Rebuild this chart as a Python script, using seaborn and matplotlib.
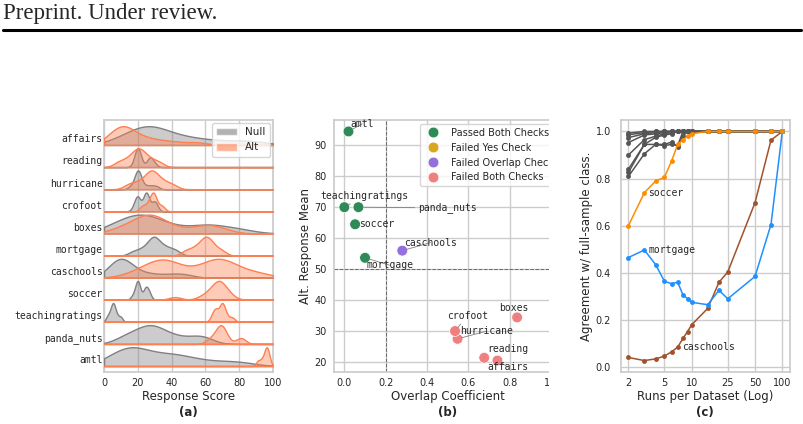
import numpy as np
import pandas as pd
import matplotlib.pyplot as plt
import seaborn as sns
from matplotlib.patches import Patch, Rectangle
from matplotlib.lines import Line2D
from matplotlib.ticker import NullLocator

# datasets, top row of the ridge plot first
datasets = ['affairs', 'reading', 'hurricane', 'crofoot', 'boxes', 'mortgage',
            'caschools', 'soccer', 'teachingratings', 'panda_nuts', 'amtl']

# (a) response scores (null vs alt prompt)
affairs_null = [8, 14, 18, 21, 24, 26, 28, 30, 33, 37, 42, 48, 55, 65, 78, 90]
affairs_alt = [3, 6, 8, 10, 11, 12, 13, 15, 18, 22, 27, 33, 42, 55]
reading_null = [18, 19, 19.5, 20, 20, 20, 20.5, 21, 22, 26, 27, 27.5, 28, 30]
reading_alt = [8, 12, 15, 17, 19, 20, 21, 22, 24, 26, 29, 33]
hurricane_null = [16, 18.5, 19.5, 20, 20, 20, 20.5, 21, 22, 25, 28, 31]
hurricane_alt = [14, 18, 21, 24, 26, 27, 28, 29, 30, 32, 34, 37, 41]
crofoot_null = [18, 19.5, 20, 20, 20.5, 24, 24.5, 25, 25, 25.5, 26, 29.5, 30, 30.5]
crofoot_alt = [22, 24, 26, 27, 28, 29, 29, 29.5, 30, 31, 33, 35]
boxes_null = [3, 8, 12, 16, 19, 21, 23, 25, 28, 32, 37, 43, 55, 60, 64, 72, 82]
boxes_alt = [8, 14, 18, 22, 24, 26, 27, 29, 31, 34, 38, 45, 56, 60, 64, 70]
mortgage_null = [17, 21, 24, 26, 28, 29, 29.5, 30, 31, 33, 35, 37, 40, 43]
mortgage_alt = [48, 52, 55, 57, 59, 60, 61, 62, 64, 66, 70]
caschools_null = [3, 6, 8, 9, 10, 11, 12, 14, 17, 22, 30, 40, 48]
caschools_alt = [18, 25, 30, 33, 35, 37, 40, 46, 55, 62, 65, 67, 69, 71, 75, 82, 92]
soccer_null = [17, 19, 19.5, 20, 20, 20.5, 21, 24, 24.5, 25, 26, 27]
soccer_alt = [42, 58, 62, 64, 66, 67, 68, 68.5, 69, 70, 72, 75]
teachingratings_null = [2, 3.5, 4.5, 5, 5.5, 6, 6.5, 8, 10]
teachingratings_alt = [64, 65.5, 66, 67, 69, 69.5, 70, 70.5, 71, 73, 76]
panda_nuts_null = [10, 15, 19, 22, 25, 27, 29, 31, 34, 38, 43, 50, 57, 60]
panda_nuts_alt = [62, 65, 67, 68, 69, 69.5, 70, 71, 73, 80, 82]
amtl_null = [3, 8, 12, 14, 16, 18, 21, 25, 30, 36, 40, 44, 50, 58, 70, 82]
amtl_alt = [91, 93, 94.5, 95.5, 96, 96.5, 97, 98]

null_scores = dict(zip(datasets, [affairs_null, reading_null, hurricane_null, crofoot_null,
                                  boxes_null, mortgage_null, caschools_null, soccer_null,
                                  teachingratings_null, panda_nuts_null, amtl_null]))
alt_scores = dict(zip(datasets, [affairs_alt, reading_alt, hurricane_alt, crofoot_alt,
                                 boxes_alt, mortgage_alt, caschools_alt, soccer_alt,
                                 teachingratings_alt, panda_nuts_alt, amtl_alt]))

# (b) overlap coefficient vs alt response mean
overlap_coef = [0.74, 0.676, 0.547, 0.535, 0.835, 0.10, 0.28, 0.052, 0.0, 0.068, 0.02]
alt_mean = [20.6, 21.5, 27.6, 30.1, 34.5, 53.7, 56.0, 64.5, 70.0, 70.0, 94.4]
check_status = ['Failed Both Checks'] * 5 + ['Passed Both Checks', 'Failed Overlap Check'] \
    + ['Passed Both Checks'] * 4
status_order = ['Passed Both Checks', 'Failed Yes Check', 'Failed Overlap Check', 'Failed Both Checks']

# (c) agreement with full-sample classification
runs = [2, 3, 4, 5, 6, 7, 8, 9, 10, 15, 20, 25, 50, 75, 100]
soccer_agree = [0.60, 0.74, 0.79, 0.805, 0.875, 0.945, 0.965, 0.98, 0.99, 1, 1, 1, 1, 1, 1]
mortgage_agree = [0.465, 0.497, 0.435, 0.364, 0.354, 0.36, 0.307, 0.29, 0.275, 0.265,
                  0.326, 0.29, 0.385, 0.605, 1.0]
caschools_agree = [0.041, 0.028, 0.035, 0.047, 0.065, 0.085, 0.122, 0.151, 0.18, 0.249,
                   0.36, 0.404, 0.698, 0.963, 1.0]
affairs_agree = [0.993, 1, 1, 1, 1, 1, 1, 1, 1, 1, 1, 1, 1, 1, 1]
reading_agree = [0.986, 0.995, 1, 1, 1, 1, 1, 1, 1, 1, 1, 1, 1, 1, 1]
hurricane_agree = [0.974, 0.99, 0.995, 1, 1, 1, 1, 1, 1, 1, 1, 1, 1, 1, 1]
crofoot_agree = [0.953, 0.985, 0.99, 0.995, 1, 1, 1, 1, 1, 1, 1, 1, 1, 1, 1]
boxes_agree = [0.90, 0.965, 0.98, 0.99, 0.995, 1, 1, 1, 1, 1, 1, 1, 1, 1, 1]
teachingratings_agree = [0.84, 0.945, 0.975, 0.985, 0.99, 1, 1, 1, 1, 1, 1, 1, 1, 1, 1]
panda_nuts_agree = [0.826, 0.945, 0.945, 0.94, 0.945, 0.94, 1, 1, 1, 1, 1, 1, 1, 1, 1]
amtl_agree = [0.809, 0.905, 0.945, 0.945, 0.955, 0.935, 0.98, 1, 1, 1, 1, 1, 1, 1, 1]

gray_names = ['affairs', 'reading', 'hurricane', 'crofoot', 'boxes',
              'teachingratings', 'panda_nuts', 'amtl']
agreement = dict(zip(gray_names, [affairs_agree, reading_agree, hurricane_agree, crofoot_agree,
                                  boxes_agree, teachingratings_agree, panda_nuts_agree, amtl_agree]))
agreement.update(caschools=caschools_agree, mortgage=mortgage_agree, soccer=soccer_agree)

sns.set_theme(style='whitegrid', rc={
    'axes.labelsize': 8.5, 'xtick.labelsize': 7, 'ytick.labelsize': 7,
    'legend.fontsize': 7, 'xtick.major.size': 0, 'ytick.major.size': 0,
    'xtick.major.pad': 4, 'ytick.major.pad': 4, 'axes.labelpad': 2,
})
mono = 'DejaVu Sans Mono'

W, H = 804, 424
fig = plt.figure(figsize=(W / 100, H / 100), dpi=100)


def px_box(l, t, r, b):
    return [l / W, 1 - b / H, (r - l) / W, (b - t) / H]


ax_a = fig.add_axes(px_box(104, 120, 273, 372))
ax_b = fig.add_axes(px_box(334, 120, 561.6, 372))
ax_c = fig.add_axes(px_box(620.7, 120, 790, 372))

# header
fig.text(3 / W, 1 - 19 / H, 'Preprint. Under review.', family='Liberation Serif',
         fontsize=16.5, va='baseline', ha='left')
fig.add_artist(Line2D([3 / W, 801 / W], [1 - 30.3 / H] * 2, color='black', lw=2.2,
                      transform=fig.transFigure))

# ---- (a) ridge plot
n = len(datasets)
ax_a.set_xlim(0, 100)
ax_a.set_ylim(-0.27, n + 0.13)
ax_a.set_xticks(range(0, 101, 20))
ax_a.set_yticks([n - 1 - i + 0.3 for i in range(n)])
ax_a.set_yticklabels(datasets, family=mono)
ax_a.tick_params(axis='y', pad=1)
ax_a.yaxis.grid(False)
for i, name in enumerate(datasets):
    k = n - 1 - i
    for scores, color in [(null_scores[name], 'gray'), (alt_scores[name], 'coral')]:
        row = ax_a.inset_axes([0, k - 0.05, 100, 1.05], transform=ax_a.transData)
        sns.kdeplot(x=scores, ax=row, fill=True, color=color, alpha=0.4, linewidth=1.0,
                    clip=(0, 100), cut=100, gridsize=400, bw_adjust=0.7)
        peak = row.dataLim.y1 / 0.85
        row.set_xlim(0, 100)
        row.set_ylim(-0.05 * peak, peak)
        row.set_xticks([])
        row.set_yticks([])
        row.set_xlabel('')
        row.set_ylabel('')
        row.set_axis_off()
        row.patch.set_visible(False)
leg_a = ax_a.legend(handles=[Patch(facecolor='gray', alpha=0.6, label='Null'),
                             Patch(facecolor='coral', alpha=0.6, label='Alt')],
                    loc='upper right', fontsize=7.5, borderaxespad=0.3)
leg_a.set_zorder(20)
ax_a.set_xlabel('Response Score')
ax_a.text(0.5, -0.16, '(a)', transform=ax_a.transAxes, ha='center', va='center',
          fontsize=8.5, fontweight='bold')

# ---- (b) scatter
df_b = pd.DataFrame({'dataset': datasets, 'overlap': overlap_coef,
                     'alt_mean': alt_mean, 'status': check_status})
palette_b = {'Passed Both Checks': 'seagreen', 'Failed Yes Check': 'goldenrod',
             'Failed Overlap Check': 'mediumpurple', 'Failed Both Checks': 'lightcoral'}
ax_b.axvline(0.2, color='dimgray', ls='--', lw=0.7, zorder=1)
ax_b.axhline(50, color='dimgray', ls='--', lw=0.7, zorder=1)
sns.scatterplot(data=df_b, x='overlap', y='alt_mean', hue='status', hue_order=status_order,
                palette=palette_b, s=60, edgecolor='white', linewidth=0.5, ax=ax_b, zorder=3)
ax_b.set_xlim(-0.05, 1.05)
ax_b.set_xticks(np.arange(0, 1.01, 0.2))
ax_b.tick_params(axis='y', pad=5)
ax_b.legend(loc='upper right', fontsize=7, borderaxespad=0.4)

label_offsets = {'amtl': (1.4, 5.5), 'teachingratings': (-17.3, 8.4), 'panda_nuts': (43, -0.5),
                 'soccer': (2.5, 0), 'caschools': (1.2, 5.8), 'mortgage': (0.7, -5.3),
                 'crofoot': (-6, 11), 'hurricane': (1.9, 5.5), 'boxes': (-13, 6.5),
                 'reading': (2.2, 6), 'affairs': (-7.4, -4.6)}
for name, x, y in zip(datasets, overlap_coef, alt_mean):
    ax_b.annotate(name, (x, y), xytext=label_offsets[name], textcoords='offset points',
                  ha='left', va='center', family=mono, fontsize=7, zorder=4,
                  arrowprops=dict(arrowstyle='-', color='gray', lw=0.6, shrinkA=0, shrinkB=3))
ax_b.set_xlabel('Overlap Coefficient')
ax_b.set_ylabel('Alt. Response Mean')
ax_b.text(0.5, -0.16, '(b)', transform=ax_b.transAxes, ha='center', va='center',
          fontsize=8.5, fontweight='bold')
# the source panel was cropped on its right side
fig.add_artist(Rectangle((549 / W, 1 - 400 / H), 26 / W, 290 / H, transform=fig.transFigure,
                         facecolor='white', edgecolor='none', zorder=10))

# ---- (c) agreement curves
draw_order = gray_names + ['caschools', 'mortgage', 'soccer']
rows = [(name, r, v) for name in draw_order for r, v in zip(runs, agreement[name])]
df_c = pd.DataFrame(rows, columns=['dataset', 'runs', 'agreement'])
palette_c = {name: '#555555' for name in gray_names}
palette_c.update(caschools='sienna', mortgage='dodgerblue', soccer='darkorange')
sns.lineplot(data=df_c, x='runs', y='agreement', hue='dataset', hue_order=draw_order,
             palette=palette_c, marker='o', markersize=3.5, markeredgewidth=0,
             linewidth=1.1, legend=False, ax=ax_c)
ax_c.set_xscale('log')
ax_c.set_xticks([2, 5, 10, 25, 50, 100])
ax_c.set_xticklabels(['2', '5', '10', '25', '50', '100'])
ax_c.xaxis.set_minor_locator(NullLocator())
ax_c.set_yticks(np.arange(0, 1.01, 0.2))
ax_c.tick_params(axis='y', pad=7)
for name, idx in [('soccer', 1), ('mortgage', 1), ('caschools', 5)]:
    ax_c.annotate(name, (runs[idx], agreement[name][idx]), xytext=(3, 0),
                  textcoords='offset points', va='center', family=mono, fontsize=7)
ax_c.set_xlabel('Runs per Dataset (Log)')
ax_c.set_ylabel('Agreement w/ full-sample class.')
ax_c.text(0.5, -0.16, '(c)', transform=ax_c.transAxes, ha='center', va='center',
          fontsize=8.5, fontweight='bold')

fig.savefig('out.png', dpi=100)
